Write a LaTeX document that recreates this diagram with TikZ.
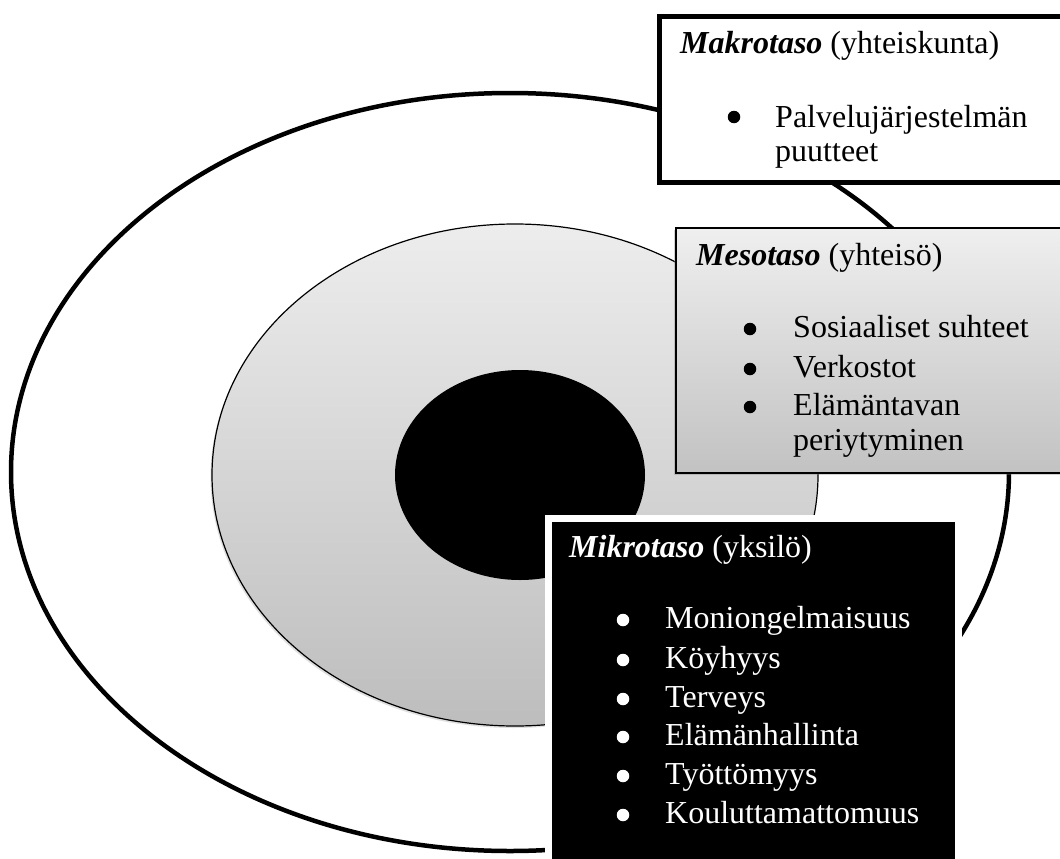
\documentclass[tikz,border=0pt]{standalone}
\usepackage{fontspec}
\setmainfont{Liberation Serif}
\usetikzlibrary{shadows}
\definecolor{gtop}{HTML}{EDEDED}
\definecolor{gbot}{HTML}{BDBDBD}
\definecolor{mtop}{HTML}{EFEFEF}
\definecolor{mbot}{HTML}{C2C2C2}
\begin{document}
\begin{tikzpicture}[x=1pt,y=-1pt,
  txt/.style={anchor=base west, inner sep=0pt, font=\fontsize{32}{38}\selectfont},
  wtxt/.style={txt, text=white},
  bul/.style={circle, fill=black, inner sep=0pt, minimum size=12.5pt},
  wbul/.style={bul, fill=white},
  boxnode/.style={anchor=north west, inner sep=0pt, rectangle}
]
\useasboundingbox (0,0) rectangle (1060,859);
\clip (0,0) rectangle (1060,859);

% rings
\draw[line width=4.5pt, fill=white] (510,472) ellipse [x radius=499, y radius=379];
\draw[line width=1.2pt, top color=gtop, bottom color=gbot,
      drop shadow={opacity=0.25, shadow xshift=-1.5pt, shadow yshift=-2pt}]
      (515,475) ellipse [x radius=303, y radius=251];
\fill[black] (520,475) ellipse [x radius=125, y radius=105];

% Makro box
\node[boxnode, draw, line width=5pt, fill=white, minimum width=430pt, minimum height=165.5pt] (makro) at (657,14.5) {};
\node[txt] (makroT) at (680,53) {\textbf{\textit{Makrotaso}} (yhteiskunta)};
\node[bul] (makroB1) at (734,117) {};
\node[txt] (makroI1) at (775,127) {Palvelujärjestelmän};
\node[txt] (makroI1b) at (775,161) {puutteet};

% Meso box
\node[boxnode, draw, line width=1.5pt, top color=mtop, bottom color=mbot,
      drop shadow={opacity=0.35, shadow xshift=-1.5pt, shadow yshift=-2.5pt},
      minimum width=420pt, minimum height=245pt] (meso) at (675,227) {};
\node[txt] (mesoT) at (696,265) {\textbf{\textit{Mesotaso}} (yhteisö)};
\node[bul] (mesoB1) at (750,329) {};
\node[txt] (mesoI1) at (793,337) {Sosiaaliset suhteet};
\node[bul] (mesoB2) at (750,369) {};
\node[txt] (mesoI2) at (793,377) {Verkostot};
\node[bul] (mesoB3) at (750,407) {};
\node[txt] (mesoI3) at (793,415) {Elämäntavan};
\node[txt] (mesoI3b) at (793,450) {periytyminen};

% Mikro box
\node[boxnode, draw=white, line width=7pt, fill=black,
      drop shadow={opacity=0.2, shadow xshift=0pt, shadow yshift=0pt, scale=1.01},
      minimum width=410.5pt, minimum height=350pt] (mikro) at (544.5,514.5) {};
\node[wtxt] (mikroT) at (569,557) {\textbf{\textit{Mikrotaso}} (yksilö)};
\node[wbul] (mikroB1) at (623,620) {};
\node[wtxt] (mikroI1) at (665,628) {Moniongelmaisuus};
\node[wbul] (mikroB2) at (623,660) {};
\node[wtxt] (mikroI2) at (665,668) {Köyhyys};
\node[wbul] (mikroB3) at (623,699) {};
\node[wtxt] (mikroI3) at (665,707) {Terveys};
\node[wbul] (mikroB4) at (623,737) {};
\node[wtxt] (mikroI4) at (665,745) {Elämänhallinta};
\node[wbul] (mikroB5) at (623,776) {};
\node[wtxt] (mikroI5) at (665,784) {Työttömyys};
\node[wbul] (mikroB6) at (623,815) {};
\node[wtxt] (mikroI6) at (665,823) {Kouluttamattomuus};
\end{tikzpicture}
\end{document}
